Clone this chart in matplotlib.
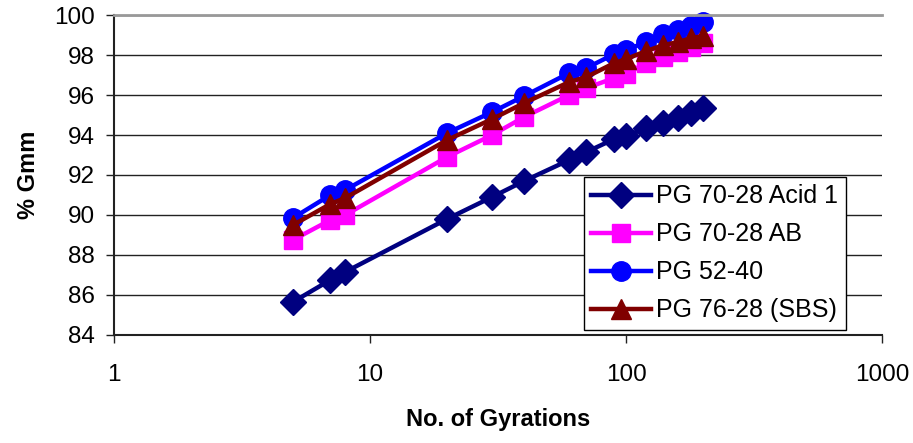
import matplotlib
matplotlib.use("Agg")
import matplotlib.pyplot as plt
from matplotlib.ticker import FixedLocator, NullLocator, FuncFormatter

plt.rcParams['font.family'] = ['Liberation Sans', 'DejaVu Sans']

gyrations = [5, 7, 8, 20, 30, 40, 60, 70, 90, 100, 120, 140, 160, 180, 200]
acid1 = [85.65, 86.75, 87.15, 89.8, 90.9, 91.7, 92.75, 93.15, 93.8, 93.95, 94.35, 94.6, 94.85, 95.1, 95.35]
ab = [88.75, 89.75, 90.0, 92.9, 94.0, 94.9, 96.0, 96.35, 96.85, 97.05, 97.6, 97.9, 98.15, 98.4, 98.6]
pg5240 = [89.85, 91.0, 91.25, 94.1, 95.15, 95.95, 97.1, 97.35, 98.05, 98.25, 98.65, 99.05, 99.25, 99.45, 99.65]
sbs = [89.5, 90.55, 90.85, 93.75, 94.8, 95.6, 96.65, 96.9, 97.6, 97.8, 98.2, 98.5, 98.65, 98.85, 98.95]

series = [
    ("PG 70-28 Acid 1", acid1, "#000080", "D", 13),
    ("PG 70-28 AB", ab, "#ff00ff", "s", 12.5),
    ("PG 52-40", pg5240, "#0000ff", "o", 14),
    ("PG 76-28 (SBS)", sbs, "#800000", "^", 15),
]

fig = plt.figure(figsize=(9.13, 4.43), dpi=100)
ax = fig.add_axes([0.125, 0.244, 0.841, 0.722])

for label, vals, color, marker, ms in series:
    ax.plot(gyrations, vals, color=color, marker=marker, markersize=ms,
            linewidth=3.2, label=label, clip_on=False)

ax.set_xscale('log')
ax.set_xlim(1, 1000)
ax.set_ylim(84, 100)
ax.xaxis.set_major_locator(FixedLocator([1, 10, 100, 1000]))
ax.xaxis.set_minor_locator(NullLocator())
ax.xaxis.set_major_formatter(FuncFormatter(lambda v, p: f"{int(round(v))}"))
ax.set_yticks(range(84, 101, 2))

ax.grid(axis='y', color='#222222', linewidth=1)
ax.set_axisbelow(True)
ax.spines['right'].set_visible(False)
ax.spines['top'].set_color('#999999')
ax.spines['top'].set_linewidth(2)
for s in ['left', 'bottom']:
    ax.spines[s].set_linewidth(1.5)
    ax.spines[s].set_color('#222222')
ax.tick_params(axis='both', labelsize=17.5, length=6, width=1, direction='out', colors='#222222',
               labelcolor='black')
ax.tick_params(axis='x', pad=15)
ax.tick_params(axis='y', pad=8)

ax.set_xlabel("No. of Gyrations", fontsize=17, fontweight='bold', labelpad=16)
ax.set_ylabel("% Gmm", fontsize=17, fontweight='bold', labelpad=10)

leg = ax.legend(loc='lower right', bbox_to_anchor=(0.953, 0.016), fontsize=18,
                frameon=True, fancybox=False, edgecolor='black', framealpha=1,
                borderpad=0.3, labelspacing=0.56, handlelength=2.4, handletextpad=0.2,
                borderaxespad=0)
leg.get_frame().set_linewidth(1)

fig.savefig("out.png", dpi=100)
